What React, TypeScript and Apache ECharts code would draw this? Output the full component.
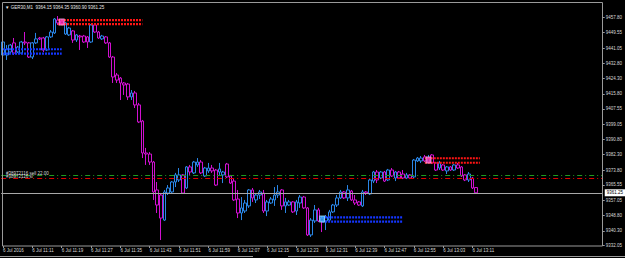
import React, { useEffect, useRef } from "react";
import * as echarts from "echarts";

// ---- data (GER30, M1, 6 Jul 2016 11:03 .. 13:12) ----
const openP = [
  9437.2, 9437.2, 9438.9, 9443.9, 9438.9, 9438.3, 9444.4, 9443.9, 9436.1, 9443.9,
  9446.6, 9446.6, 9440.0, 9447.2, 9449.4, 9456.5, 9456.0, 9448.8, 9448.3, 9450.5,
  9445.5, 9447.7, 9447.7, 9447.2, 9444.4, 9453.8, 9449.9, 9446.1, 9447.2, 9443.9,
  9436.1, 9426.2, 9424.5, 9421.8, 9421.2, 9414.1, 9416.3, 9409.7, 9400.8, 9383.2,
  9382.6, 9378.2, 9362.8, 9360.0, 9346.2, 9361.1, 9361.7, 9367.2, 9368.3, 9371.1,
  9363.9, 9375.5, 9372.2, 9376.6, 9378.2, 9370.5, 9373.3, 9374.9, 9373.8, 9372.7,
  9371.1, 9377.1, 9370.5, 9367.7, 9357.8, 9350.1, 9351.2, 9354.0, 9362.8, 9357.3,
  9360.0, 9361.1, 9351.2, 9355.6, 9357.3, 9360.0, 9362.8, 9354.0, 9354.5, 9356.2,
  9351.2, 9355.6, 9358.9, 9352.9, 9338.0, 9345.7, 9351.8, 9347.3, 9345.7, 9346.2,
  9350.7, 9354.5, 9358.4, 9361.7, 9358.4, 9362.2, 9357.3, 9356.2, 9354.0, 9361.7,
  9360.6, 9367.7, 9372.7, 9369.4, 9372.7, 9368.3, 9373.8, 9369.4, 9372.7, 9371.6,
  9369.4, 9371.1, 9370.0, 9378.8, 9378.8, 9381.0, 9378.2, 9382.1, 9377.7, 9374.9,
  9376.6, 9373.3, 9375.5, 9373.8, 9376.6, 9375.5, 9371.1, 9368.3, 9369.4, 9364.15,
];
const closeP = [
  9444.4, 9440.5, 9442.7, 9438.3, 9441.6, 9444.4, 9443.9, 9436.1, 9443.9, 9446.1,
  9446.1, 9440.0, 9447.2, 9449.9, 9457.1, 9454.9, 9454.3, 9454.9, 9452.1, 9445.5,
  9448.3, 9447.2, 9444.4, 9444.4, 9453.8, 9449.9, 9446.6, 9447.7, 9443.9, 9436.1,
  9425.1, 9423.4, 9421.8, 9420.7, 9414.1, 9416.3, 9409.7, 9400.3, 9383.2, 9382.6,
  9378.2, 9361.7, 9354.5, 9347.3, 9361.7, 9363.9, 9367.2, 9371.1, 9371.1, 9361.1,
  9375.5, 9372.7, 9378.2, 9378.2, 9372.2, 9374.9, 9374.9, 9373.3, 9365.5, 9374.4,
  9372.7, 9370.0, 9366.6, 9357.3, 9350.1, 9352.9, 9355.6, 9362.8, 9358.4, 9360.0,
  9361.7, 9351.2, 9356.2, 9357.8, 9360.0, 9361.7, 9354.0, 9356.2, 9356.2, 9350.7,
  9356.2, 9358.9, 9352.9, 9338.0, 9346.2, 9351.8, 9345.7, 9345.7, 9347.9, 9350.7,
  9354.5, 9358.4, 9361.7, 9358.4, 9362.8, 9357.3, 9355.6, 9354.5, 9361.7, 9361.1,
  9368.3, 9372.7, 9368.3, 9372.7, 9367.7, 9373.8, 9370.5, 9372.7, 9369.4, 9369.4,
  9371.1, 9369.4, 9379.3, 9380.4, 9380.4, 9378.8, 9380.4, 9377.7, 9373.8, 9377.7,
  9373.8, 9375.5, 9373.8, 9376.6, 9374.9, 9370.5, 9368.3, 9371.6, 9363.9, 9361.25,
];
const lowP = [
  9436.1, 9434.5, 9438.3, 9437.2, 9438.3, 9437.8, 9442.7, 9435.6, 9435.0, 9443.3,
  9445.5, 9438.9, 9439.4, 9446.6, 9448.8, 9453.8, 9453.8, 9448.3, 9447.7, 9443.9,
  9444.4, 9440.0, 9443.9, 9441.1, 9443.9, 9449.4, 9446.1, 9445.5, 9443.3, 9435.6,
  9421.8, 9421.8, 9412.4, 9415.2, 9412.4, 9412.4, 9408.0, 9399.7, 9380.4, 9376.6,
  9376.6, 9357.3, 9350.1, 9335.2, 9345.7, 9360.0, 9361.1, 9364.4, 9367.2, 9360.6,
  9363.3, 9371.1, 9371.6, 9375.5, 9371.6, 9370.0, 9372.2, 9372.2, 9365.0, 9371.1,
  9366.6, 9369.4, 9366.1, 9356.7, 9347.3, 9346.2, 9350.1, 9352.9, 9356.2, 9355.6,
  9357.8, 9350.1, 9348.4, 9355.1, 9354.0, 9358.4, 9351.8, 9350.1, 9354.0, 9350.1,
  9349.0, 9352.9, 9352.3, 9337.4, 9336.9, 9344.6, 9345.1, 9339.6, 9340.7, 9345.1,
  9350.1, 9353.4, 9357.8, 9357.8, 9356.7, 9356.7, 9354.5, 9354.0, 9353.4, 9360.0,
  9360.0, 9366.6, 9366.6, 9368.8, 9367.2, 9367.7, 9370.0, 9367.7, 9368.8, 9368.8,
  9368.8, 9368.8, 9369.4, 9378.2, 9377.7, 9378.2, 9377.7, 9377.1, 9373.3, 9373.8,
  9373.3, 9371.6, 9373.3, 9373.3, 9374.4, 9370.0, 9367.7, 9367.2, 9363.3, 9360.90,
];
const highP = [
  9445.5, 9442.7, 9443.3, 9446.6, 9442.2, 9445.0, 9449.9, 9444.4, 9444.4, 9449.4,
  9447.2, 9447.2, 9447.7, 9451.0, 9457.6, 9458.7, 9456.5, 9455.4, 9452.7, 9451.0,
  9448.8, 9448.3, 9448.3, 9447.7, 9454.3, 9454.3, 9450.5, 9448.3, 9447.7, 9444.4,
  9436.7, 9427.3, 9425.1, 9422.3, 9421.8, 9417.9, 9417.4, 9410.8, 9401.4, 9386.0,
  9383.7, 9378.8, 9367.2, 9361.1, 9362.8, 9365.5, 9367.7, 9372.2, 9374.9, 9371.6,
  9376.0, 9376.6, 9378.8, 9380.4, 9379.3, 9375.5, 9377.7, 9376.6, 9374.4, 9377.7,
  9373.3, 9377.7, 9371.1, 9369.4, 9362.8, 9358.9, 9357.3, 9363.3, 9363.9, 9361.1,
  9362.8, 9362.8, 9357.3, 9358.9, 9364.4, 9365.5, 9363.3, 9358.4, 9357.3, 9356.7,
  9357.3, 9360.0, 9359.5, 9353.4, 9347.3, 9354.5, 9352.9, 9348.4, 9349.0, 9351.8,
  9355.1, 9360.0, 9362.8, 9362.2, 9365.5, 9362.8, 9360.0, 9356.7, 9362.8, 9362.2,
  9368.8, 9373.3, 9373.8, 9373.3, 9373.3, 9374.4, 9374.9, 9373.3, 9373.3, 9373.8,
  9372.2, 9371.6, 9379.9, 9381.0, 9381.5, 9382.1, 9382.1, 9382.6, 9378.2, 9378.8,
  9377.1, 9376.0, 9376.0, 9377.1, 9377.7, 9376.0, 9371.6, 9372.7, 9370.0, 9364.35,
];

const priceTicks = [
  9457.8, 9449.55, 9441.05, 9432.8, 9424.3, 9415.8, 9407.55, 9399.05,
  9390.8, 9382.3, 9373.8, 9365.55, 9357.05, 9348.8, 9340.3, 9332.05,
];
const timeTicks = [
  "6 Jul 2016", "6 Jul 11:11", "6 Jul 11:19", "6 Jul 11:27", "6 Jul 11:35",
  "6 Jul 11:43", "6 Jul 11:51", "6 Jul 11:59", "6 Jul 12:07", "6 Jul 12:15",
  "6 Jul 12:23", "6 Jul 12:31", "6 Jul 12:39", "6 Jul 12:47", "6 Jul 12:55",
  "6 Jul 13:03", "6 Jul 13:11",
];
const SLOTS = 164; // minutes shown on the time axis (incl. right shift)
const TICK_STEP = 8;

const bidPrice = 9361.25;
const orderOpenPrice = 9370.9;
const stopLossPrice = 9369.1;

// zones: [fromBar, toBar, upperLevel, lowerLevel]
const redZoneA = [15, 38, 9456.5, 9454.2];
const redZoneB = [115, 130, 9380.3, 9377.8];
const blueZoneA = [0, 16, 9440.4, 9438.0];
const blueZoneB = [87, 109, 9347.7, 9345.3];
// markers: [bar, price]
const pinkMarks = [[16, 9455.4], [116, 9379.3]];
const cyanMarks = [[87, 9346.8]];

const FONT = "'Liberation Sans', Arial, sans-serif";
const BULL = "#2a86e6";
const BEAR = "#d010d0";
const FRAME = "#9a9a9a";

function zoneSeries(z: number[], color: string) {
  return [z[2], z[3]].map((lv) => ({
    type: "line",
    data: [[z[0], lv], [z[1], lv]],
    symbol: "none",
    silent: true,
    z: 4,
    lineStyle: { color, width: 2.2, type: [2, 1] },
  }));
}

export default function App() {
  const ref = useRef<HTMLDivElement>(null);
  useEffect(() => {
    if (!ref.current) return;
    const chart = echarts.init(ref.current, null, { renderer: "svg" });
    const cats = Array.from({ length: SLOTS }, (_, i) => {
      const m = 3 + i;
      const hh = 11 + Math.floor(m / 60);
      const mm = m % 60;
      return `${hh}:${mm < 10 ? "0" + mm : mm}`;
    });
    const candles = openP.map((o, i) => [o, closeP[i], lowP[i], highP[i]]);
    const showTick = (i: number) => i % TICK_STEP === 0 && i / TICK_STEP < timeTicks.length;

    chart.setOption({
      animation: false,
      backgroundColor: "#000000",
      grid: { left: 1, right: 22, top: 3, bottom: 12, show: false },
      xAxis: {
        type: "category",
        data: cats,
        boundaryGap: true,
        axisLine: { show: false },
        axisTick: {
          show: true,
          alignWithLabel: true,
          interval: (i: number) => showTick(i),
          length: 2,
          lineStyle: { color: FRAME },
        },
        axisLabel: {
          interval: (i: number) => showTick(i),
          formatter: (_v: string, i: number) => timeTicks[i / TICK_STEP] ?? "",
          align: "left",
          color: "#d8d8d8",
          fontSize: 4.5,
          fontFamily: FONT,
          margin: 2,
        },
        splitLine: { show: false },
      },
      yAxis: {
        type: "value",
        position: "right",
        min: 9331.9,
        max: 9465.9,
        axisLine: { show: false },
        axisTick: { show: true, customValues: priceTicks, length: 2, lineStyle: { color: FRAME } },
        axisLabel: {
          customValues: priceTicks,
          formatter: (v: number) => v.toFixed(2),
          color: "#d8d8d8",
          fontSize: 4.5,
          fontFamily: FONT,
          margin: 3,
        },
        splitLine: { show: false },
      },
      series: [
        {
          type: "candlestick",
          data: candles,
          barWidth: 3.2,
          z: 3,
          itemStyle: {
            color: "#000000",
            color0: "#000000",
            borderColor: BULL,
            borderColor0: BEAR,
            borderWidth: 1,
          },
          markLine: {
            silent: true,
            symbol: ["none", "none"],
            data: [
              {
                yAxis: orderOpenPrice,
                lineStyle: { color: "#1f9a1f", width: 1, type: [5, 3, 1, 3] },
                label: { show: false },
              },
              {
                yAxis: stopLossPrice,
                lineStyle: { color: "#e00000", width: 1, type: [5, 3, 1, 3] },
                label: { show: false },
              },
              {
                yAxis: bidPrice,
                lineStyle: { color: "#a8a8a8", width: 1, type: "solid" },
                label: {
                  show: true,
                  position: "end",
                  distance: 2,
                  formatter: bidPrice.toFixed(2),
                  backgroundColor: "#ffffff",
                  color: "#000000",
                  fontSize: 4.5,
                  fontFamily: FONT,
                  padding: [1, 2],
                },
              },
            ],
          },
        },
        ...zoneSeries(redZoneA, "#ff1414"),
        ...zoneSeries(redZoneB, "#ff1414"),
        ...zoneSeries(blueZoneA, "#1436ff"),
        ...zoneSeries(blueZoneB, "#1436ff"),
        {
          type: "scatter",
          data: pinkMarks,
          symbol: "rect",
          symbolSize: [5, 6],
          z: 6,
          silent: true,
          itemStyle: { color: "#ff3cc0", borderColor: "#ffb4ee", borderWidth: 1 },
        },
        {
          type: "scatter",
          data: cyanMarks,
          symbol: "rect",
          symbolSize: [5, 6],
          z: 6,
          silent: true,
          itemStyle: { color: "#2fb8ff", borderColor: "#a8e6ff", borderWidth: 1 },
        },
      ],
      graphic: [
        {
          type: "rect",
          silent: true,
          z: 10,
          shape: { x: 2.5, y: 2.5, width: 600, height: 243.5 },
          style: { fill: "none", stroke: FRAME, lineWidth: 1 },
        },
        {
          type: "line",
          silent: true,
          shape: { x1: 0, y1: 256.5, x2: 253, y2: 256.5 },
          style: { stroke: FRAME, lineWidth: 1 },
        },
        {
          type: "line",
          silent: true,
          shape: { x1: 288, y1: 256.5, x2: 625, y2: 256.5 },
          style: { stroke: FRAME, lineWidth: 1 },
        },
        {
          type: "text",
          silent: true,
          z: 11,
          x: 5,
          y: 4.5,
          style: {
            text: "\u25BC GER30,M1  9364.15 9364.35 9360.90 9361.25",
            fill: "#e8e8e8",
            fontSize: 4.5,
            fontFamily: FONT,
          },
        },
        {
          type: "text",
          silent: true,
          z: 11,
          x: 6,
          y: 170.5,
          style: { text: "#38972116 sell 22.00", fill: "#d8d8d8", fontSize: 4.5, fontFamily: FONT },
        },
        {
          type: "text",
          silent: true,
          z: 11,
          x: 6,
          y: 174.2,
          style: { text: "#38972116 sl", fill: "#d8d8d8", fontSize: 4.5, fontFamily: FONT },
        },
      ],
    });
    return () => chart.dispose();
  }, []);
  return (
    <div
      ref={ref}
      style={{ position: "fixed", left: 0, top: 0, width: 625, height: 258, background: "#000" }}
    />
  );
}
